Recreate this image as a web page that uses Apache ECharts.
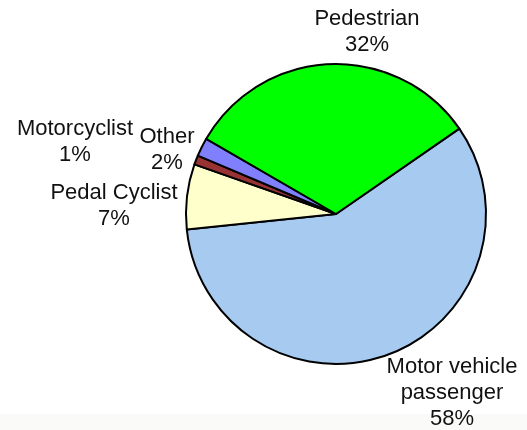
<!DOCTYPE html>
<html>
<head>
<meta charset="utf-8">
<script src="https://cdn.jsdelivr.net/npm/echarts@6/dist/echarts.min.js"></script>
<style>
  html, body { margin: 0; padding: 0; background: #fff; }
  #chart { width: 527px; height: 430px; }
</style>
</head>
<body>
<div id="chart"></div>
<script>
// slices, clockwise from the pedestrian / motor vehicle boundary
const categories = ["Motor vehicle passenger", "Pedal Cyclist", "Motorcyclist", "Other", "Pedestrian"];
const percents = [58, 7, 1, 2, 32];
const sliceColors = ["#a6caf0", "#ffffcc", "#993333", "#8080ff", "#00ff00"];

// where each label block sits (centre of the text lines)
const labelSpots = {
  "Motor vehicle passenger": [452, 393],
  "Pedal Cyclist": [114, 206],
  "Motorcyclist": [75, 142],
  "Other": [167, 150],
  "Pedestrian": [367, 32],
};

const chart = echarts.init(document.getElementById("chart"));

chart.setOption({
  animation: false,
  backgroundColor: "#ffffff",
  graphic: [
    {
      type: "rect",
      silent: true,
      z: -1,
      shape: { x: 0, y: 414, width: 527, height: 16 },
      style: { fill: "#fafbf8" },
    },
  ],
  series: [
    {
      type: "pie",
      center: [336, 214],
      radius: 150,
      startAngle: 34.7,
      clockwise: true,
      avoidLabelOverlap: false,
      emphasis: { scale: false },
      itemStyle: { borderColor: "#000", borderWidth: 2 },
      label: {
        show: true,
        position: "outside",
        color: "#111",
        fontFamily: "Liberation Sans, Arial, sans-serif",
        fontSize: 22,
        lineHeight: 26,
        align: "center",
        formatter: ({ name, value }) => `${name.replace("vehicle ", "vehicle\n")}\n${value}%`,
      },
      labelLine: { show: false },
      labelLayout: (params) => {
        const spot = labelSpots[categories[params.dataIndex]];
        return { x: spot[0], y: spot[1], align: "center", verticalAlign: "middle" };
      },
      data: categories.map((name, i) => ({
        name,
        value: percents[i],
        itemStyle: { color: sliceColors[i] },
      })),
    },
  ],
});
</script>
</body>
</html>
